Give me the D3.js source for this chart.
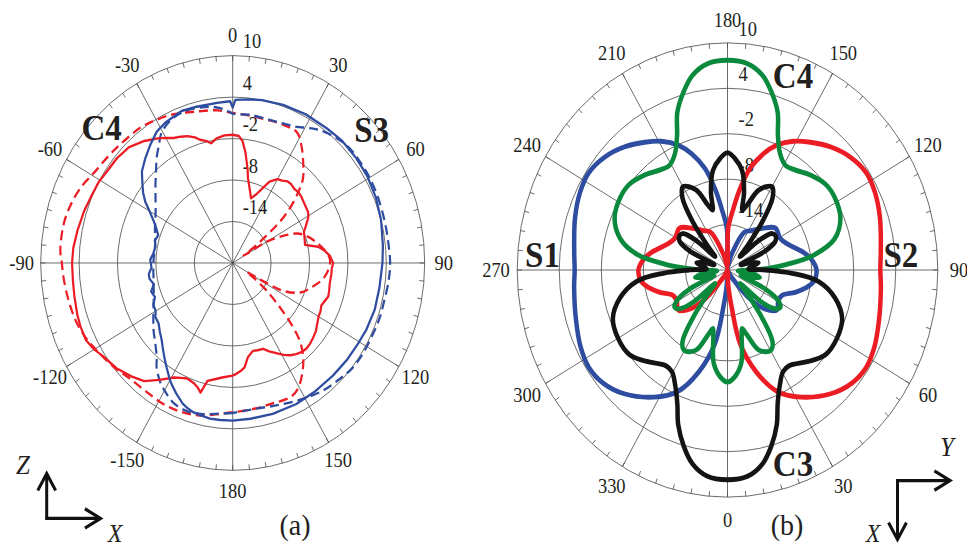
<!DOCTYPE html>
<html>
<head>
<meta charset="utf-8">
<script src="https://cdn.jsdelivr.net/npm/d3@7"></script>
<style>
  body { margin: 0; background: #fff; }
  svg { display: block; }
  text { font-family: "Liberation Serif", "Times New Roman", serif; fill: #231f20; }
</style>
</head>
<body>
<svg id="chart" width="967" height="550"></svg>
<script>
// ---- tick labels ----
const angleLabelsA = [0, 30, 60, 90, 120, 150, 180, -150, -120, -90, -60, -30];
const angleLabelsB = [180, 150, 120, 90, 60, 30, 0, 330, 300, 270, 240, 210];
const radialTicks = [10, 4, -2, -8, -14];

// ---- (a) measured / simulated patterns: [angle deg, gain dB] ----
const s3Measured = [
  [-180, 2.8], [-175, 2.8], [-171, 2.8], [-167, 2.6], [-164, 2.45], [-161, 2.1], [-159, 1.8], [-155, 0.85], [-152, 0.1],
  [-150, -0.4], [-146, -1.6], [-143, -2.4], [-139, -3.4], [-135, -4.3], [-131, -4.9], [-127, -5.5], [-123, -5.6],
  [-120, -6.1], [-116, -6.2], [-112, -6.9], [-108, -6.6], [-104, -7.3], [-100, -6.8], [-97, -6.8], [-93, -7.3],
  [-88, -7.1], [-84, -7.5], [-79, -7.7], [-75, -7.4], [-71, -7.7], [-67, -7.0], [-64, -6.3], [-60, -5.0],
  [-57, -3.7], [-54, -2.7], [-51, -1.85], [-47, -0.6], [-42, 0.4], [-37, 1.4], [-32, 2.4], [-27, 2.9],
  [-20, 3.4], [-14, 3.3], [-6, 3.3], [-1, 3.4], [0, 2.5], [1, 3.6], [6, 3.8], [11, 4.0], [19, 4.2], [28, 4.35],
  [37, 4.4], [44, 4.6], [52, 4.55], [59, 4.5], [67, 4.3], [75, 4.0], [84, 3.6], [90, 3.4], [99, 3.2],
  [107, 3.2], [115, 3.0], [121, 2.8], [128, 2.7], [136, 2.6], [145, 2.6], [154, 2.7], [164, 2.7], [173, 2.7], [180, 2.8]
];
const s3Simulated = [
  [-180, 1.7], [-173, 2.0], [-167, 2.4], [-161, 2.6], [-155, 2.2], [-150, 1.3], [-147, 0.7], [-142, -0.7],
  [-139, -1.9], [-134, -3.2], [-128, -4.3], [-120, -5.7], [-112, -6.7], [-101, -7.4], [-90, -7.6], [-78, -7.6],
  [-68, -6.9], [-58, -5.8], [-52, -4.7], [-47, -3.5], [-42, -2.1], [-38, -0.7], [-34, 0.6], [-31, 1.75], [-26, 2.7],
  [-20, 3.2], [-14, 3.1], [-8, 2.8], [-3, 2.2], [0, 1.6], [7, 1.6], [16, 1.5], [22, 1.7], [27, 2.1], [31, 2.8],
  [35, 3.5], [42, 4.3], [48, 4.7], [54, 4.7], [60, 4.7], [67, 4.6], [76, 4.5], [84, 4.5], [90, 4.6], [96, 4.5],
  [103, 4.3], [109, 4.3], [115, 4.2], [123, 4.2], [129, 4.1], [135, 3.7], [143, 3.2], [151, 2.5], [160, 1.8],
  [170, 1.4], [180, 1.7]
];
const c4Measured = [
  [-180, -3.7], [-175, -3.4], [-171, -3.0], [-167, -2.5], [-165, -0.6], [-163, -1.2], [-161, -1.55], [-157, -1.85],
  [-154, -1.5], [-151, -1.05], [-146, 0.4], [-141, 2.0], [-136, 2.8], [-130, 3.7], [-124, 4.3], [-120, 5.0],
  [-116, 5.5], [-111, 5.5], [-107, 5.4], [-101, 5.2], [-96, 5.1], [-90, 5.1], [-85, 5.0], [-79, 4.7], [-72, 4.4],
  [-66, 4.1], [-61, 4.0], [-56, 3.7], [-50, 3.6], [-44, 3.3], [-38, 2.4], [-33, 1.5], [-30, 0.9], [-27, 0.3],
  [-24, 0.0], [-21, -0.35], [-18, -0.9], [-16, -1.45], [-13, -1.9], [-11, -2.35], [-8, -1.8], [-4, -1.5],
  [0, -1.45], [3, -1.6], [5, -2.3], [7, -3.8], [8.5, -5.2], [10, -6.5], [11, -7.5], [14, -9.0], [17, -10.2],
  [20, -9.5], [22, -8.8], [26, -6.9], [30, -6.0], [33, -5.8], [36, -5.4], [39, -5.4], [42, -5.6], [45, -5.5],
  [48, -5.6], [51, -5.8], [55, -6.0], [58, -6.1], [61, -6.5], [65, -7.4], [68, -8.0], [72, -8.2], [77, -8.4],
  [80, -6.45], [83, -5.5], [86, -4.8], [90, -4.3], [93, -4.5], [96, -4.5], [101, -4.55], [105, -4.4], [108, -4.3],
  [111, -4.6], [114, -4.85], [117, -4.6], [120, -4.5], [124, -4.1], [127, -3.7], [131, -3.4], [134, -3.2],
  [137, -3.1], [140, -3.2], [143, -3.5], [146, -3.9], [149, -4.5], [152, -5.2], [156, -6.0], [159, -6.7],
  [163, -6.8], [166, -6.9], [170, -6.2], [173, -4.8], [175, -4.4], [178, -3.95], [180, -3.7]
];
const c4Simulated = [
  [-180, 1.6], [-175, 1.9], [-167, 2.65], [-159, 3.0], [-152, 3.1], [-144, 3.0], [-136, 3.2], [-129, 3.9],
  [-121, 4.7], [-115, 5.4], [-109, 5.9], [-102, 6.2], [-95, 6.5], [-90, 6.7], [-86, 7.0], [-78, 7.0],
  [-72, 6.7], [-65, 6.1], [-59, 5.3], [-51, 4.8], [-44, 4.5], [-36, 4.3], [-30, 3.9], [-23, 3.4], [-14, 2.6],
  [-6, 2.2], [0, 1.7], [7, 1.5], [14, 1.4], [21, 1.5], [28, 1.4], [32, 0.2], [37, -1.7], [42, -3.6], [45, -5.5],
  [48.5, -8.1], [51, -10.5], [53, -13.3], [56, -16.2], [58, -18.0], [60, -13.9], [63.5, -11.2], [68, -8.7],
  [77, -6.6], [88, -4.8], [98, -5.5], [106, -7.2], [112, -8.6], [117, -11.1], [119, -14.6], [121, -17.5],
  [123, -16.2], [127, -13.4], [131, -10.2], [134, -7.3], [137, -4.65], [141, -2.5], [146, -0.6], [151, 0.9],
  [155, 1.4], [163, 1.25], [171, 1.35], [180, 1.6]
];

// ---- (b) simulated patterns: [theta deg, gain dB] ----
const s1Pattern = [
  [0, -20], [25, -19.5], [40, -15], [46, -12.6], [53, -11.2], [61, -11.7], [67, -11.5], [73, -9.9], [78, -8.6],
  [83, -7.6], [90, -7.3], [97, -8], [103, -9.1], [112, -10.8], [119, -11.4], [129, -11.2], [138, -12.6],
  [147, -13.8], [154, -14.4], [165, -18], [175, -19.5], [181, -14.5], [186, -11.8], [189.5, -9.1], [193.5, -6.2],
  [198.5, -3.8], [203, -2.1], [209, -0.55], [215, 0.6], [222, 1.9], [229.5, 3.0], [237, 3.6], [244, 3.4],
  [252.6, 2.8], [263.7, 2.0], [270, 1.8], [276, 2.0], [287, 2.6], [296, 3.3], [303, 3.6], [310, 3.2],
  [318, 2.0], [328, -0.2], [336, -2.4], [343, -5.9], [349.5, -10.1], [353, -14.9], [357, -18]
];
const s2Pattern = [
  [0, -20], [3, -18], [7, -14.9], [10.5, -10.1], [17, -5.9], [24, -2.4], [32, -0.2], [42, 2.0], [50, 3.2],
  [57, 3.6], [64, 3.3], [73, 2.6], [84, 2.0], [90, 1.8], [96.3, 2.0], [107.4, 2.8], [116, 3.4], [123, 3.6],
  [130.5, 3.0], [138, 1.9], [145, 0.6], [151, -0.55], [157, -2.1], [161.5, -3.8], [166.5, -6.2], [170.5, -9.1],
  [174, -11.8], [179, -14.5], [185, -19.5], [195, -18], [206, -14.4], [213, -13.8], [222, -12.6], [231, -11.2],
  [241, -11.4], [248, -10.8], [257, -9.1], [263, -8], [270, -7.3], [277, -7.6], [282, -8.6], [287, -9.9],
  [293, -11.5], [299, -11.7], [307, -11.2], [314, -12.6], [320, -15], [335, -19.5]
];
const c4Pattern = [
  [0, -5.2], [4, -5.8], [9, -7.5], [13, -11], [15, -12], [18, -11], [23, -8.5], [30, -7.7], [34, -8.5],
  [38, -12], [42, -16], [45, -17.5], [49, -13.5], [53, -11.5], [57, -11], [61, -11.8], [65, -14], [70, -18],
  [74, -16.5], [78, -15.3], [82, -16.5], [86, -18.5], [89, -16.8], [92, -14.2], [95, -11.5], [99, -7.6],
  [105, -4.2], [113, -2.5], [122, -1.95], [129, -2.0], [137, -2.8], [144, -3.65], [149, -3.9], [154, -2.9],
  [158, -0.8], [161, 2.0], [165, 4.3], [169, 6.2], [174, 7.4], [180, 7.7],
  [186, 7.4], [191, 6.2], [195, 4.3], [199, 2.0], [202, -0.8], [206, -2.9], [211, -3.9], [216, -3.65],
  [223, -2.8], [231, -2.0], [238, -1.95], [247, -2.5], [255, -4.2], [261, -7.0], [265, -11.0], [268, -14.2],
  [271, -16.8], [274, -18.5], [278, -16.5], [282, -15.3], [286, -16.5], [290, -18], [295, -14], [299, -11.8],
  [303, -11], [307, -11.5], [311, -13.5], [315, -17.5], [318, -16], [322, -12], [326, -8.5], [330, -7.7],
  [337, -8.5], [342, -11], [345, -12], [347, -11], [351, -7.5], [356, -5.8]
];
const c3Pattern = [
  [0, 7.7], [6, 7.4], [11, 6.1], [15, 4.1], [19, 1.6], [22, -0.9], [26, -3.0], [30.5, -4.4], [34.8, -4.6],
  [43.7, -3.3], [51.3, -2.1], [60, -1.97], [68.7, -2.45], [76.4, -4.2], [83.3, -6.9], [87.3, -10.8],
  [90, -14.5], [93, -17], [98, -16.5], [102, -15.5], [106, -16.5], [110, -18], [115, -14], [119, -12.2],
  [123, -11.8], [127, -12], [131, -14], [135, -17.5], [138, -16], [142, -12], [146, -8.5], [150, -7.3],
  [157, -8.5], [162, -11], [165, -11.8], [167, -9.5], [171, -6.7], [176, -5.2], [180, -4.5],
  [184, -5.2], [189, -6.7], [193, -9.5], [195, -11.8], [198, -11], [203, -8.5], [210, -7.3], [214, -8.5],
  [218, -12], [222, -16], [225, -17.5], [229, -14], [233, -12], [237, -11.8], [241, -12.2], [245, -14],
  [250, -18], [254, -16.5], [258, -15.5], [262, -16.5], [267, -17], [270, -14.5], [272.7, -10.8],
  [276.7, -6.9], [283.6, -4.2], [291.3, -2.45], [300, -1.97], [308.7, -2.1], [316.3, -3.3], [325.2, -4.6],
  [329.5, -4.4], [334, -3.0], [338, -0.9], [341, 1.6], [345, 4.1], [349, 6.1], [354, 7.4]
];

// ---- drawing ----
const svg = d3.select("#chart");
const stretch = 1.08;
const root = svg.append("g").attr("transform", `scale(1,${stretch})`);

const gridColor = "#4d4d4d";
const red = "#ec1c24", blue = "#2e4da0", green = "#0b8a3d", black = "#141414";

function polarFrame(g, R, labels, angleOf, labelR, radialDx) {
  const r = d3.scaleLinear().domain([-20, 10]).range([0, R]);
  // rings
  g.selectAll("circle.ring").data(radialTicks).join("circle")
    .attr("r", d => r(d)).attr("fill", "none")
    .attr("stroke", gridColor).attr("stroke-width", 0.8);
  // spokes every 30 degrees
  const spokes = d3.range(0, 360, 30);
  g.selectAll("line.spoke").data(spokes).join("line")
    .attr("x1", 0).attr("y1", 0)
    .attr("x2", d => R * Math.sin(d * Math.PI / 180))
    .attr("y2", d => -R * Math.cos(d * Math.PI / 180))
    .attr("stroke", gridColor).attr("stroke-width", 0.8);
  // minor ticks every 5 degrees
  const ticks = d3.range(0, 360, 5);
  g.selectAll("line.tick").data(ticks).join("line")
    .attr("x1", d => (R - 4.8) * Math.sin(d * Math.PI / 180))
    .attr("y1", d => -(R - 4.8) * Math.cos(d * Math.PI / 180))
    .attr("x2", d => R * Math.sin(d * Math.PI / 180))
    .attr("y2", d => -R * Math.cos(d * Math.PI / 180))
    .attr("stroke", gridColor).attr("stroke-width", 0.8);
  // angle labels
  g.selectAll("text.ang").data(labels).join("text")
    .attr("class", "ang")
    .attr("x", d => labelR * Math.sin(angleOf(d)))
    .attr("y", d => -labelR * Math.cos(angleOf(d)))
    .attr("text-anchor", "middle").attr("dominant-baseline", "central")
    .attr("font-size", 18.5)
    .text(d => d);
  // radial labels
  g.selectAll("text.rad").data(radialTicks).join("text")
    .attr("class", "rad")
    .attr("x", radialDx)
    .attr("y", d => -r(d) - 13)
    .attr("dominant-baseline", "central")
    .attr("font-size", 18.5)
    .text(d => d);
  return r;
}

// ----- panel (a) -----
const gA = root.append("g").attr("transform", "translate(232.7,243.5)");
const angA = d => d * Math.PI / 180;
const rA = polarFrame(gA, 192, angleLabelsA, angA, 211, 10);
const lineA = d3.lineRadial()
  .angle(d => angA(d[0]))
  .radius(d => rA(Math.max(-20, d[1])));

const seriesA = [
  { data: c4Simulated, color: red, dash: "9,5", curve: d3.curveCatmullRom },
  { data: s3Simulated, color: blue, dash: "9,5", curve: d3.curveCatmullRom },
  { data: c4Measured, color: red, dash: null, curve: d3.curveLinear },
  { data: s3Measured, color: blue, dash: null, curve: d3.curveLinear }
];
seriesA.forEach(s => {
  gA.append("path")
    .attr("d", lineA.curve(s.curve)(s.data))
    .attr("fill", "none").attr("stroke", s.color)
    .attr("stroke-width", 2.2)
    .attr("stroke-dasharray", s.dash)
    .attr("stroke-linejoin", "round");
});

// ----- panel (b) -----
const gB = root.append("g").attr("transform", "translate(727.5,250)");
const angB = d => (180 - d) * Math.PI / 180;
const rB = polarFrame(gB, 210.3, angleLabelsB, angB, 231.5, 11);
const lineB = d3.lineRadial()
  .angle(d => angB(d[0]))
  .radius(d => rB(Math.max(-20, d[1])))
  .curve(d3.curveCatmullRomClosed.alpha(0.5));

[
  { data: s1Pattern, color: blue },
  { data: s2Pattern, color: red },
  { data: c4Pattern, color: green },
  { data: c3Pattern, color: black }
].forEach(s => {
  gB.append("path")
    .attr("d", lineB(s.data))
    .attr("fill", "none").attr("stroke", s.color)
    .attr("stroke-width", 4.5)
    .attr("stroke-linejoin", "round");
});

// ----- port labels -----
const portLabels = [
  { t: "C4", x: 101.7, y: 118.5 }, { t: "S3", x: 371.7, y: 120.4 },
  { t: "S1", x: 542.5, y: 235.5 }, { t: "S2", x: 900.8, y: 235.5 },
  { t: "C4", x: 793, y: 69.9 }, { t: "C3", x: 793, y: 429 }
];
root.selectAll("text.port").data(portLabels).join("text")
  .attr("class", "port")
  .attr("x", d => d.x).attr("y", d => d.y)
  .attr("text-anchor", "middle").attr("dominant-baseline", "central")
  .attr("font-size", 33).attr("font-weight", "bold")
  .text(d => d.t);

// panel captions
root.selectAll("text.cap").data([{ t: "(a)", x: 295 }, { t: "(b)", x: 787 }]).join("text")
  .attr("class", "cap")
  .attr("x", d => d.x).attr("y", 485.7)
  .attr("text-anchor", "middle").attr("dominant-baseline", "central")
  .attr("font-size", 28)
  .text(d => d.t);

// ----- coordinate axes glyphs -----
function arrow(g, x1, y1, x2, y2) {
  const a = Math.atan2(y2 - y1, x2 - x1);
  const L = 18, W = 0.52;
  g.append("line").attr("x1", x1).attr("y1", y1).attr("x2", x2).attr("y2", y2)
    .attr("stroke", "#111").attr("stroke-width", 3);
  g.append("path")
    .attr("d", `M${x2 - L * Math.cos(a - W)},${y2 - L * Math.sin(a - W)} L${x2},${y2} L${x2 - L * Math.cos(a + W)},${y2 - L * Math.sin(a + W)}`)
    .attr("fill", "none").attr("stroke", "#111").attr("stroke-width", 3)
    .attr("stroke-linejoin", "miter");
}
const axes = root.append("g");
arrow(axes, 46.7, 480, 46.7, 438.5);
arrow(axes, 45.2, 480, 100.5, 480);
arrow(axes, 896, 445, 950, 445);
arrow(axes, 897.5, 443.5, 897.5, 499.5);

const axisLabels = [
  { t: "Z", x: 23, y: 431, s: 25 }, { t: "X", x: 115, y: 494, s: 24 },
  { t: "Y", x: 947, y: 414.5, s: 25 }, { t: "X", x: 873, y: 494, s: 24 }
];
axes.selectAll("text").data(axisLabels).join("text")
  .attr("x", d => d.x).attr("y", d => d.y)
  .attr("text-anchor", "middle").attr("dominant-baseline", "central")
  .attr("font-size", d => d.s).attr("font-style", "italic")
  .text(d => d.t);
</script>
</body>
</html>
